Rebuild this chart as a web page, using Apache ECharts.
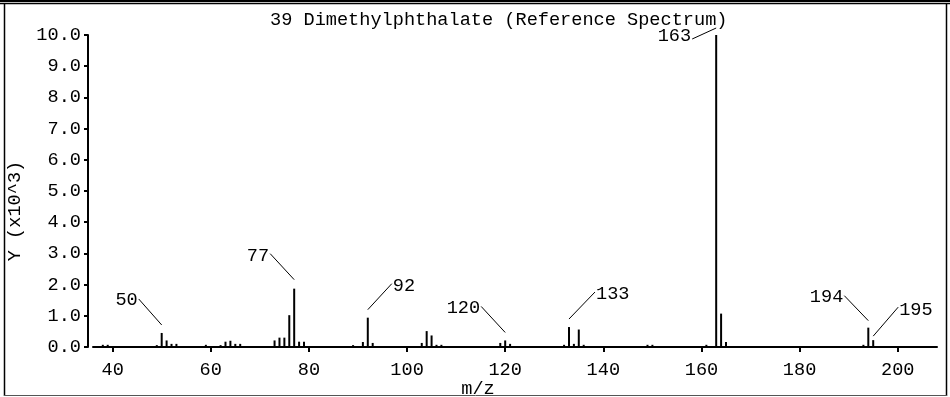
<!DOCTYPE html>
<html>
<head>
<meta charset="utf-8">
<script src="https://cdn.jsdelivr.net/npm/echarts@6/dist/echarts.min.js"></script>
<style>
html,body{margin:0;padding:0;background:#fff;}
#chart{width:950px;height:397px;}
</style>
</head>
<body>
<div id="chart"></div>
<script>
// ---- data (intensity in units of 10^3) ----
const titleText = '39 Dimethylphthalate (Reference Spectrum)';
const mzValues = [38, 39, 49, 50, 51, 52, 53, 59, 62, 63, 64, 65, 66,
  73, 74, 75, 76, 77, 78, 79, 89, 91, 92, 93, 103, 104, 105, 106, 107,
  119, 120, 121, 132, 133, 134, 135, 136, 149, 150, 161, 163, 164, 165,
  193, 194, 195];
const intensities = [0.07, 0.07, 0.06, 0.45, 0.21, 0.10, 0.10, 0.07, 0.06, 0.17, 0.20, 0.10, 0.10,
  0.21, 0.30, 0.30, 1.02, 1.87, 0.17, 0.17, 0.06, 0.16, 0.94, 0.13, 0.13, 0.51, 0.37, 0.07, 0.07,
  0.13, 0.21, 0.10, 0.07, 0.64, 0.10, 0.56, 0.07, 0.07, 0.07, 0.07, 10.0, 1.07, 0.16,
  0.07, 0.62, 0.22];
const labeledPeaks = [50, 77, 92, 120, 133, 163, 194, 195];
const xTicks = [40, 60, 80, 100, 120, 140, 160, 180, 200];
const yTicks = [0, 1, 2, 3, 4, 5, 6, 7, 8, 9, 10];
const xAxisName = 'm/z';
const yAxisName = 'Y (x10^3)';

// ---- label leader-line placement (pixels, style only) ----
const leader = {
  50:  {gap: 8, dx: -23, dy: -26, ty: 1},
  77:  {gap: 9, dx: -24, dy: -26, ty: 2},
  92:  {gap: 8, dx: 24, dy: -26, ty: 2},
  120: {gap: 8, dx: -24, dy: -26, ty: 2},
  133: {gap: 8, dx: 26, dy: -27, ty: 2},
  163: {gap: 7, dx: -24, dy: 11, ty: -3},
  194: {gap: 7, dx: -24, dy: -25, ty: 1},
  195: {gap: 4, dx: 25, dy: -29, ty: 3}
};

const FONT = 'Liberation Mono';
const FS = 18.6;

const barData = mzValues.map((m, i) => [m, intensities[i]]);
const annData = labeledPeaks.map(m => [m, intensities[mzValues.indexOf(m)]]);

const chart = echarts.init(document.getElementById('chart'), null, {renderer: 'canvas'});
chart.setOption({
  animation: false,
  backgroundColor: '#fff',
  title: {
    text: titleText,
    left: 265, top: 6,
    textStyle: {fontFamily: FONT, fontSize: FS, fontWeight: 'normal', color: '#000'}
  },
  grid: {left: 93, right: 13, top: 35, bottom: 50, containLabel: false},
  xAxis: {
    type: 'value', min: 36, max: 208, offset: 6,
    axisLine: {show: true, lineStyle: {color: '#000', width: 2}},
    axisTick: {show: true, length: 5, lineStyle: {color: '#000', width: 2}, customValues: xTicks},
    axisLabel: {customValues: xTicks, margin: 8, color: '#000', fontFamily: FONT, fontSize: FS},
    splitLine: {show: false}
  },
  yAxis: {
    type: 'value', min: 0, max: 10, offset: 5,
    axisLine: {show: true, lineStyle: {color: '#000', width: 2}},
    axisTick: {show: true, length: 4, lineStyle: {color: '#000', width: 2}, customValues: yTicks},
    axisLabel: {customValues: yTicks, margin: 7, color: '#000', fontFamily: FONT, fontSize: FS,
      formatter: v => v.toFixed(1)},
    splitLine: {show: false}
  },
  series: [
    {
      type: 'bar', data: barData, barWidth: 2,
      itemStyle: {color: '#000'}, silent: true
    },
    {
      type: 'custom', data: annData, clip: false, silent: true, z: 5,
      renderItem: function (params, api) {
        const m = api.value(0), h = api.value(1);
        const p = api.coord([m, h]);
        const c = leader[m];
        const x0 = p[0], y0 = p[1] - c.gap;
        const x1 = x0 + c.dx, y1 = y0 + c.dy;
        const left = c.dx < 0;
        return {
          type: 'group',
          children: [
            {type: 'line', shape: {x1: x0, y1: y0, x2: x1, y2: y1},
              style: {stroke: '#000', lineWidth: 1}},
            {type: 'text', style: {
              text: String(m), x: x1 + (left ? -1 : 1), y: y1 + c.ty,
              align: left ? 'right' : 'left', verticalAlign: 'middle',
              fontFamily: FONT, fontSize: FS, fill: '#000'}}
          ]
        };
      }
    }
  ],
  graphic: [
    {type: 'rect', shape: {x: 0, y: 0, width: 950, height: 2}, style: {fill: '#000'}, silent: true},
    {type: 'line', shape: {x1: 0, y1: 3.5, x2: 950, y2: 3.5}, style: {stroke: '#000', lineWidth: 1.5}, silent: true},
    {type: 'line', shape: {x1: 4.5, y1: 3, x2: 4.5, y2: 396}, style: {stroke: '#000', lineWidth: 1.5}, silent: true},
    {type: 'line', shape: {x1: 946.5, y1: 3, x2: 946.5, y2: 396}, style: {stroke: '#000', lineWidth: 1.5}, silent: true},
    {type: 'line', shape: {x1: 4, y1: 395.5, x2: 947, y2: 395.5}, style: {stroke: '#555', lineWidth: 1}, silent: true},
    {type: 'text', x: 478, y: 389, style: {text: xAxisName, align: 'center', verticalAlign: 'middle',
      fontFamily: FONT, fontSize: FS, fill: '#000'}, silent: true},
    {type: 'text', x: 15, y: 211, rotation: Math.PI / 2, style: {text: yAxisName, align: 'center', verticalAlign: 'middle',
      fontFamily: FONT, fontSize: FS, fill: '#000'}, silent: true}
  ]
});
</script>
</body>
</html>
